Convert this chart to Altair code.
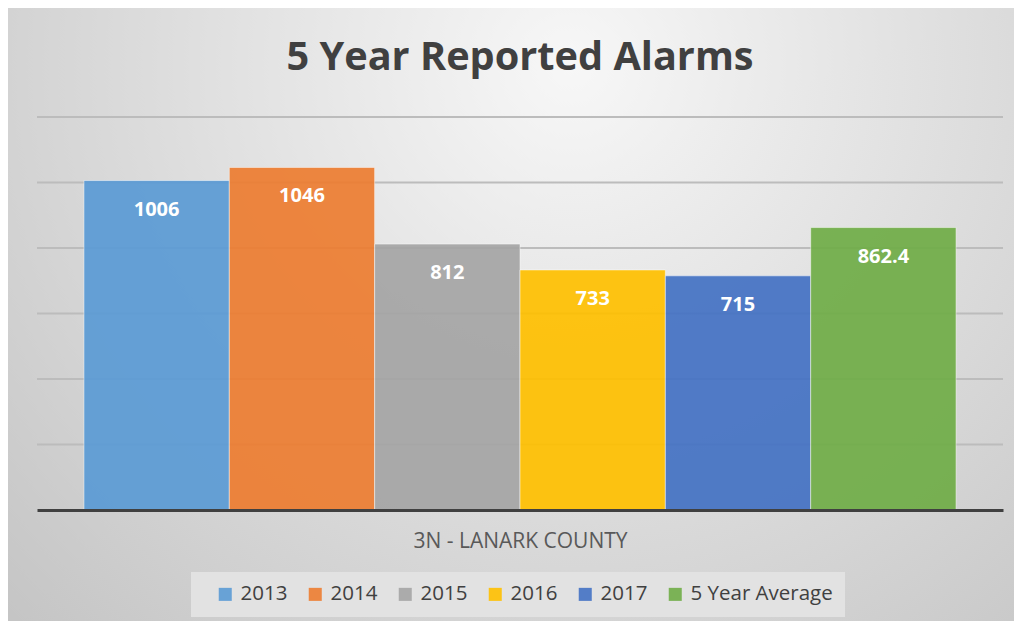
import altair as alt
import pandas as pd

title_text = "5 Year Reported Alarms"
series = ["2013", "2014", "2015", "2016", "2017", "5 Year Average"]
values = [1006, 1046, 812, 733, 715, 862.4]
labels = ["1006", "1046", "812", "733", "715", "862.4"]
colors = ["#5B9BD5", "#ED7D31", "#A5A5A5", "#FFC000", "#4472C4", "#70AD47"]
category = "3N - LANARK COUNTY"
y_ticks = [200, 400, 600, 800, 1000, 1200]

df = pd.DataFrame({"Series": series, "Value": values, "Label": labels})
bg = pd.DataFrame({"k": [0]})
grid_df = pd.DataFrame({"tick": y_ticks})
title_df = pd.DataFrame({"t": [title_text]})

W, H = 966, 393
PL, PT, PR, PB = 29, 109, 11, 111
FONT = "Open Sans"
YSCALE = alt.Scale(domain=[0, 1200], nice=False)

background = alt.Chart(bg).mark_rect(
    color=alt.Gradient(
        gradient="radial",
        stops=[
            alt.GradientStop(offset=0, color="#f7f7f7"),
            alt.GradientStop(offset=1, color="#c4c4c4"),
        ],
        x1=0.55, y1=0.25, x2=0.55, y2=0.25, r1=0, r2=0.78,
    ),
    stroke="#bdbdbd",
    strokeWidth=1,
).encode(
    x=alt.value(-PL + 0.5 - 2),
    x2=alt.value(W + PR + 20),
    y=alt.value(-PT + 0.5 - 4),
    y2=alt.value(H + PB + 20),
)

grid = alt.Chart(grid_df).mark_rule(color="#bcbcbc", strokeWidth=2).encode(
    y=alt.Y("tick:Q", scale=YSCALE, axis=None),
    x=alt.value(0),
    x2=alt.value(W),
)

xenc = alt.X(
    "Series:N",
    sort=series,
    scale=alt.Scale(paddingInner=0, paddingOuter=0.323),
    axis=alt.Axis(
        labels=False, ticks=False, title=category, zindex=1,
        titleFontSize=21, titleFont=FONT, titleFontWeight="normal",
        titleColor="#595959", titlePadding=20,
        domainColor="#404040", domainWidth=3, grid=False,
    ),
)

bars = alt.Chart(df).mark_bar(
    opacity=0.92, stroke="#ffffff", strokeWidth=1, strokeOpacity=0.5
).encode(
    x=xenc,
    y=alt.Y("Value:Q", scale=YSCALE, axis=None),
    color=alt.Color(
        "Series:N",
        sort=series,
        scale=alt.Scale(domain=series, range=colors),
        legend=alt.Legend(
            title=None, orient="none", direction="horizontal", columns=6,
            legendX=154, legendY=455,
            symbolType="square", symbolSize=170, symbolStrokeWidth=0,
            symbolOpacity=0.9, symbolOffset=12,
            labelFontSize=20.5, labelFont=FONT, labelColor="#404040",
            labelOffset=5, columnPadding=5,
            fillColor="#e2e2e2", padding=12,
        ),
    ),
)

text = alt.Chart(df).mark_text(
    color="white", fontWeight="bold", fontSize=20, font=FONT,
    baseline="middle", dy=29,
).encode(
    x=alt.X("Series:N", sort=series),
    y=alt.Y("Value:Q", scale=YSCALE),
    text="Label:N",
)

title = alt.Chart(title_df).mark_text(
    fontSize=39.7, font=FONT, fontWeight="bold", color="#404040",
    align="center", baseline="alphabetic",
).encode(
    x=alt.value(W / 2),
    y=alt.value(-47),
    text="t:N",
)

chart = alt.layer(background, grid, bars, text, title).properties(
    width=W, height=H,
    padding={"left": PL, "top": PT, "right": PR, "bottom": PB},
    autosize=alt.AutoSizeParams(type="none"),
).configure_view(stroke=None)

chart.save("out.html", embed_options={"renderer": "svg", "actions": False})
